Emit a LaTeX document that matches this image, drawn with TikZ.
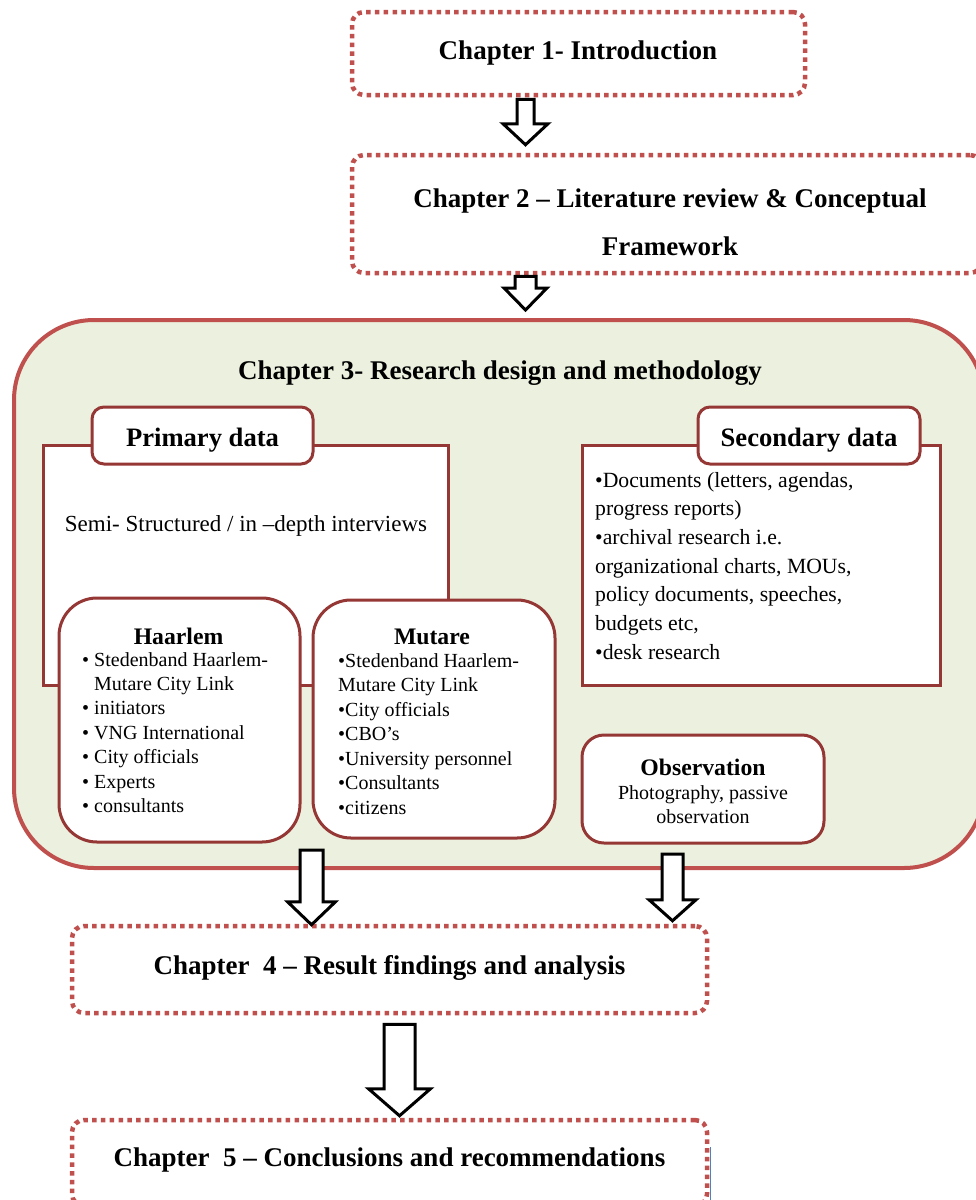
\documentclass[tikz,border=0pt]{standalone}
\usepackage{fontspec}
\setmainfont{Liberation Serif}
\usetikzlibrary{calc}

\definecolor{chapred}{HTML}{C0504D}
\definecolor{panelred}{HTML}{953735}
\definecolor{olivefill}{HTML}{EBF1DE}
\definecolor{markblue}{HTML}{4F81BD}

\newcommand{\chapfont}{\bfseries\fontsize{27}{32}\selectfont}
\newcommand{\tabfont}{\bfseries\fontsize{26.6}{32}\selectfont}
\newcommand{\subfont}{\bfseries\fontsize{23.7}{28}\selectfont}

% hollow block arrow: [style] {start} {tip} {half shaft} {half head} {head length}
\newcommand{\blockarrow}[6][]{%
  \draw[blockarr,#1] let \p1=#2, \p2=#3 in
    (\x1-#4pt,\y1) -- (\x1+#4pt,\y1) -- (\x1+#4pt,\y2+#6pt) -- (\x1+#5pt,\y2+#6pt)
    -- (\x1,\y2) -- (\x1-#5pt,\y2+#6pt) -- (\x1-#4pt,\y2+#6pt) -- cycle;}

\begin{document}
\begin{tikzpicture}[x=1pt,y=-1pt,
  chapbox/.style={draw=chapred, line width=4.5pt, dash pattern=on 4.5pt off 4.3pt,
    rounded corners=12pt, fill=white, inner sep=0pt},
  chaptext/.style={font=\chapfont, inner sep=0pt, align=center},
  panel/.style={draw=panelred, line width=3pt, fill=white, inner sep=0pt},
  tabbox/.style={panel, rounded corners=12pt},
  citybox/.style={panel, rounded corners=38pt},
  obsbox/.style={panel, rounded corners=22pt},
  bodytext/.style={inner sep=0pt, align=left},
  blockarr/.style={draw=black, line width=3pt, fill=white, line join=miter}]

\useasboundingbox (0,0) rectangle (976,1200);
\clip (0,0) rectangle (976,1200);
\fill[white] (0,0) rectangle (976,1200);

% chapter frames
\node[chapbox, minimum width=453pt, minimum height=83pt] (ch1) at (578.5,53.5) {};
\node[chaptext] (ch1t) at (578,53) {Chapter 1- Introduction};

\node[chapbox, minimum width=630pt, minimum height=118pt] (ch2) at (667,214) {};
\node[chaptext, font=\bfseries\fontsize{27}{48}\selectfont] (ch2t) at (670,222)
  {Chapter 2 – Literature review \& Conceptual\\Framework};

\node[chapbox, minimum width=635pt, minimum height=87pt] (ch4) at (389.5,969.5) {};
\node[chaptext] (ch4t) at (389.5,968) {Chapter\ \ 4 – Result findings and analysis};

\node[chapbox, minimum width=635pt, minimum height=86pt] (ch5) at (389.5,1163) {};
\node[chaptext] (ch5t) at (389.5,1160) {Chapter\ \ 5 – Conclusions and recommendations};
\draw[markblue, line width=1pt] (710,1147) -- (710,1200);

% chapter 3 container
\node[draw=chapred, line width=4pt, fill=olivefill, rounded corners=80pt,
      minimum width=970pt, minimum height=548pt, inner sep=0pt] (ch3) at (499,594) {};
\node[chaptext] (ch3t) at (500,373) {Chapter 3- Research design and methodology};

% primary data
\node[panel, minimum width=405pt, minimum height=240pt] (prim) at (245.5,565) {};
\node[tabbox, minimum width=221pt, minimum height=57pt] (primtab) at (202.5,435.5) {};
\node[inner sep=0pt, font=\tabfont] (primt) at (202.5,440) {Primary data};
\node[inner sep=0pt, font=\fontsize{23}{28}\selectfont] (semi) at (246,526)
  {Semi- Structured / in –depth interviews};

\node[citybox, minimum width=241pt, minimum height=244pt] (haar) at (179.5,720) {};
\node[inner sep=0pt, font=\subfont] (haart) at (178.5,636) {Haarlem};
\node[bodytext, anchor=base west, font=\fontsize{20}{24.4}\selectfont] (haarl) at (82,666)
  {\begin{tabular}[t]{@{}l@{\hspace{5pt}}l@{}}
   • & Stedenband Haarlem-\\
     & Mutare City Link\\
   • & initiators\\
   • & VNG International\\
   • & City officials\\
   • & Experts\\
   • & consultants
   \end{tabular}};

\node[citybox, minimum width=242pt, minimum height=238pt] (mut) at (434,719) {};
\node[inner sep=0pt, font=\subfont] (mutt) at (432,637) {Mutare};
\node[bodytext, anchor=base west, font=\fontsize{20}{24.5}\selectfont] (mutl) at (338,667)
  {\begin{tabular}[t]{@{}l@{}}
   •Stedenband Haarlem-\\
   Mutare City Link\\
   •City officials\\
   •CBO’s\\
   •University personnel\\
   •Consultants\\
   •citizens
   \end{tabular}};

% secondary data
\node[panel, minimum width=358pt, minimum height=240pt] (sec) at (761,565) {};
\node[tabbox, minimum width=222pt, minimum height=57pt] (sectab) at (809,435.5) {};
\node[inner sep=0pt, font=\tabfont] (sect) at (809,440) {Secondary data};
\node[bodytext, anchor=base west, font=\fontsize{21.7}{28.7}\selectfont] (secl) at (595,487)
  {\begin{tabular}[t]{@{}l@{}}
   •Documents (letters, agendas,\\
   progress reports)\\
   •archival research i.e.\\
   organizational charts, MOUs,\\
   policy documents, speeches,\\
   budgets etc,\\
   •desk research
   \end{tabular}};

% observation
\node[obsbox, minimum width=242pt, minimum height=108pt] (obs) at (703,789) {};
\node[inner sep=0pt, font=\subfont] (obst) at (703,767) {Observation};
\node[inner sep=0pt, align=center, font=\fontsize{20}{24}\selectfont] (obsl) at (703,805)
  {Photography, passive\\observation};

% flow arrows
\blockarrow{([xshift=-53pt,yshift=-2pt]ch1.south)}{([yshift=8pt]ch2.north)}{8.5}{22.5}{21}
\blockarrow{([xshift=-141.5pt,yshift=-1pt]ch2.south)}{([yshift=8pt]ch3.north)}{10.5}{21.5}{22}
\blockarrow{([xshift=-187.5pt,yshift=20pt]ch3.south)}{([yshift=-1pt]ch4.north)}{11.5}{24}{23}
\blockarrow{([xshift=173.5pt,yshift=16pt]ch3.south)}{([yshift=3pt]ch4.north)}{10.5}{23.5}{21}
\blockarrow{([xshift=10pt,yshift=-9pt]ch4.south)}{([yshift=2pt]ch5.north)}{15.5}{31}{27}

\end{tikzpicture}
\end{document}
